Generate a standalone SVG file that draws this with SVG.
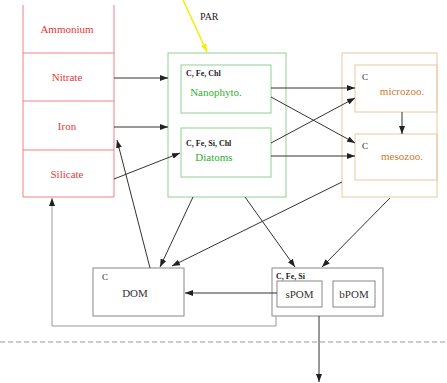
<svg xmlns="http://www.w3.org/2000/svg" width="447" height="383" viewBox="0 0 447 383">
<defs>
<marker id="ah" markerWidth="8" markerHeight="6" refX="8" refY="3" orient="auto" markerUnits="userSpaceOnUse"><path d="M0,0 L8,3 L0,6 z" fill="#222"/></marker>
<marker id="ay" markerWidth="8" markerHeight="6" refX="8" refY="3" orient="auto" markerUnits="userSpaceOnUse"><path d="M0,0 L8,3 L0,6 z" fill="#f0f000"/></marker>
<style>
text{font-family:"Liberation Serif","Times New Roman",serif}
.nut{fill:none;stroke:#f08080;stroke-width:1}
.nt{fill:#e83838;font-size:11px;text-anchor:middle}
.ph{fill:none;stroke:#90d090;stroke-width:1}
.pt{fill:#30b030;font-size:11px;text-anchor:middle}
.zo{fill:none;stroke:#e8c8a0;stroke-width:1}
.zt{fill:#d07830;font-size:11px;text-anchor:middle}
.bx{fill:none;stroke:#888;stroke-width:1}
.bt{fill:#333;font-size:11px;text-anchor:middle}
.sm{fill:#222;font-size:8px;font-weight:bold}
.c{fill:none;stroke:#333;stroke-width:1;marker-end:url(#ah)}
</style>
</defs>
<rect width="447" height="383" fill="#fff"/>
<g id="nutrients">
<path class="nut" d="M23,5 V197 H114 V5 M23,53 H114 M23,101 H114 M23,150 H114"/>
<text class="nt" x="67" y="33">Ammonium</text>
<text class="nt" x="67" y="81">Nitrate</text>
<text class="nt" x="67" y="130">Iron</text>
<text class="nt" x="67" y="178">Silicate</text>
</g>
<g id="par">
<text x="200" y="20" style="font-size:10px;fill:#222">PAR</text>
</g>
<g id="phyto">
<rect class="ph" x="168" y="53" width="118" height="144"/>
</g>
<g id="nanophyto">
<rect class="ph" x="181" y="65" width="90" height="48"/>
<text class="sm" x="186" y="76">C, Fe, Chl</text>
<text class="pt" x="216" y="96">Nanophyto.</text>
</g>
<g id="diatoms">
<rect class="ph" x="181" y="128" width="90" height="49"/>
<text class="sm" x="186" y="146">C, Fe, Si, Chl</text>
<text class="pt" x="214" y="161">Diatoms</text>
</g>
<g id="zoo">
<rect class="zo" x="342" y="53" width="95" height="144"/>
</g>
<g id="microzoo">
<rect class="zo" x="355" y="65" width="82" height="47"/>
<text class="sm" x="362" y="80" style="font-weight:normal;font-size:9px">C</text>
<text class="zt" x="402" y="95">microzoo.</text>
</g>
<g id="mesozoo">
<rect class="zo" x="355" y="134" width="82" height="46"/>
<text class="sm" x="362" y="149" style="font-weight:normal;font-size:9px">C</text>
<text class="zt" x="402" y="160">mesozoo.</text>
</g>
<g id="dom">
<rect class="bx" x="93" y="268" width="91" height="48"/>
<text class="sm" x="102" y="280" style="font-weight:normal;font-size:9px">C</text>
<text class="bt" x="135" y="297">DOM</text>
</g>
<g id="pom">
<rect class="bx" x="272" y="268" width="111" height="48"/>
<text class="sm" x="276" y="279">C, Fe, Si</text>
</g>
<g id="spom">
<rect class="bx" x="277" y="281" width="45" height="26"/>
<text class="bt" x="299.5" y="298">sPOM</text>
</g>
<g id="bpom">
<rect class="bx" x="333" y="281" width="42" height="26"/>
<text class="bt" x="354" y="298">bPOM</text>
</g>
<g id="connectors">
<line x1="183" y1="0" x2="207" y2="52" stroke="#f0f000" stroke-width="1.5" marker-end="url(#ay)"/>
<line class="c" x1="114" y1="78" x2="168" y2="78"/>
<line class="c" x1="114" y1="127" x2="168" y2="127"/>
<line class="c" x1="114" y1="179" x2="180" y2="153"/>
<line class="c" x1="150" y1="268" x2="117" y2="140"/>
<line class="c" x1="193" y1="197" x2="160" y2="267"/>
<line class="c" x1="342" y1="182" x2="172" y2="266"/>
<line class="c" x1="245" y1="197" x2="295" y2="267"/>
<line class="c" x1="390" y1="198" x2="322" y2="267"/>
<line class="c" x1="271" y1="88" x2="355" y2="88"/>
<line class="c" x1="271" y1="97" x2="355" y2="143"/>
<line class="c" x1="271" y1="143" x2="355" y2="98"/>
<line class="c" x1="271" y1="156" x2="355" y2="156"/>
<line class="c" x1="402" y1="112" x2="402" y2="134"/>
<line class="c" x1="277" y1="293" x2="185" y2="293"/>
<path class="c" d="M276,316 V326 H52 V198" style="stroke:#999"/>
<line class="c" x1="319" y1="316" x2="319" y2="382"/>
<line x1="0" y1="342" x2="447" y2="342" stroke="#999" stroke-width="1" stroke-dasharray="5,3"/>
</g>
</svg>
